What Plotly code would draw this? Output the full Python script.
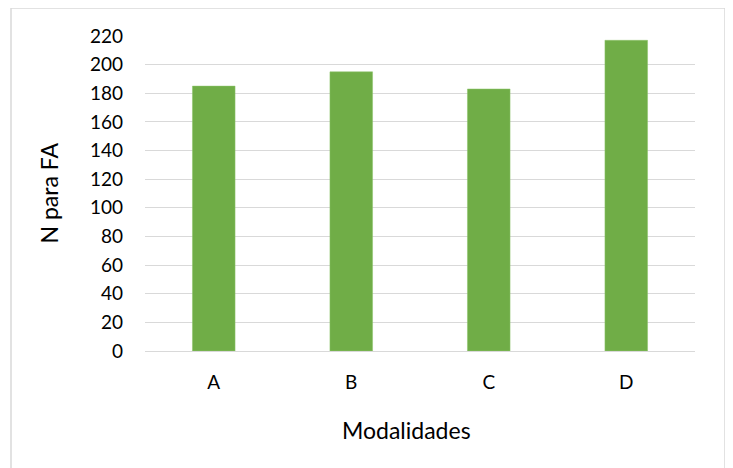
import plotly.graph_objects as go

categories = ["A", "B", "C", "D"]
values = [185, 195, 183, 217]
y_ticks = list(range(0, 221, 20))

fig = go.Figure()
fig.add_trace(go.Bar(
    x=categories, y=values,
    marker=dict(color="#70AD47", line=dict(color="#8CC46A", width=0.5)),
))

font = "Lato, Open Sans, sans-serif"

# page has an 8px body margin, so the plot area sits at 145..695 / 36..351
fig.update_layout(
    width=733, height=468,
    margin=dict(l=137, r=46, t=28, b=125),
    paper_bgcolor="white", plot_bgcolor="white",
    bargap=0.69,
    showlegend=False,
    font=dict(family=font, size=19, color="#000000"),
    xaxis=dict(
        showgrid=False, showline=False, ticks="", ticklabelstandoff=18,
    ),
    yaxis=dict(
        range=[0, 220], tickvals=y_ticks,
        showgrid=True, gridcolor="#D9D9D9", gridwidth=1,
        zeroline=True, zerolinecolor="#D9D9D9", zerolinewidth=1,
        showline=False, ticks="", ticklabelstandoff=21,
    ),
    annotations=[
        dict(text="Modalidades", xref="paper", yref="paper",
             x=(406 - 145) / 550, y=(351 - 430) / 315,
             xanchor="center", yanchor="middle", showarrow=False,
             font=dict(size=23)),
        dict(text="N para FA", xref="paper", yref="paper",
             x=(48 - 145) / 550, y=0.5, textangle=-90,
             xanchor="center", yanchor="middle", showarrow=False,
             font=dict(size=23)),
    ],
    shapes=[dict(
        type="rect", xref="paper", yref="paper",
        x0=(11 - 145) / 550, x1=(725 - 145) / 550,
        y0=(351 - 470) / 315, y1=(351 - 8) / 315,
        line=dict(color="#D9D9D9", width=1.5), fillcolor="rgba(0,0,0,0)",
        layer="below",
    )],
)

fig.write_html("out.html")
